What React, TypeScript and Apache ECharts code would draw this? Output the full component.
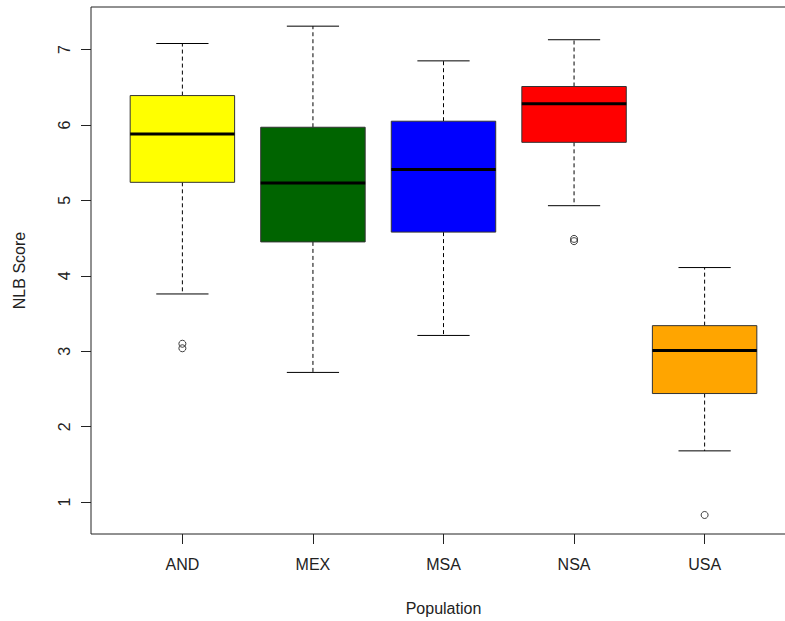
import React, { useEffect, useRef } from 'react';
import * as echarts from 'echarts';

// NLB score summary per population (five-number summary + outliers)
const categories = ['AND', 'MEX', 'MSA', 'NSA', 'USA'];
const lowerWhisker = [3.76, 2.72, 3.21, 4.93, 1.68];
const lowerQuartile = [5.24, 4.45, 4.58, 5.77, 2.44];
const medians = [5.88, 5.23, 5.41, 6.28, 3.01];
const upperQuartile = [6.39, 5.97, 6.05, 6.51, 3.34];
const upperWhisker = [7.08, 7.31, 6.85, 7.13, 4.11];
const boxColors = ['#FFFF00', '#006400', '#0000FF', '#FF0000', '#FFA500'];

// outliers: population index (1-based) and score
const outlierGroup = [1, 1, 4, 4, 5];
const outlierValues = [3.1, 3.04, 4.49, 4.46, 0.83];

const yTicks = [1, 2, 3, 4, 5, 6, 7];
const xTicks = [1, 2, 3, 4, 5];

const FONT = '"Liberation Sans", Arial, Helvetica, sans-serif';
const INK = '#222';

export default function App() {
  const ref = useRef<HTMLDivElement>(null);

  useEffect(() => {
    if (!ref.current) return;
    const chart = echarts.init(ref.current, undefined, { renderer: 'svg' });

    const boxData = categories.map((_, i) => [
      i + 1,
      lowerWhisker[i],
      lowerQuartile[i],
      medians[i],
      upperQuartile[i],
      upperWhisker[i],
    ]);
    const outlierData = outlierGroup.map((g, i) => [g, outlierValues[i]]);

    const renderBox = (params: any, api: any) => {
      const x = api.value(0);
      const [cx, yLow] = api.coord([x, api.value(1)]);
      const yQ1 = api.coord([x, api.value(2)])[1];
      const yMed = api.coord([x, api.value(3)])[1];
      const yQ3 = api.coord([x, api.value(4)])[1];
      const yHigh = api.coord([x, api.value(5)])[1];
      const half = api.size([0.8, 0])[0] / 2;
      const capHalf = half / 2;
      const dashed = { stroke: '#000', lineWidth: 1, lineDash: [4, 3] };
      const solid = { stroke: '#000', lineWidth: 1 };
      return {
        type: 'group',
        children: [
          { type: 'line', shape: { x1: cx, y1: yQ1, x2: cx, y2: yLow }, style: dashed },
          { type: 'line', shape: { x1: cx, y1: yQ3, x2: cx, y2: yHigh }, style: dashed },
          { type: 'line', shape: { x1: cx - capHalf, y1: yLow, x2: cx + capHalf, y2: yLow }, style: solid },
          { type: 'line', shape: { x1: cx - capHalf, y1: yHigh, x2: cx + capHalf, y2: yHigh }, style: solid },
          {
            type: 'rect',
            shape: { x: cx - half, y: yQ3, width: half * 2, height: yQ1 - yQ3 },
            style: { fill: boxColors[params.dataIndex], stroke: '#333', lineWidth: 1 },
          },
          {
            type: 'line',
            shape: { x1: cx - half, y1: yMed, x2: cx + half, y2: yMed },
            style: { stroke: '#000', lineWidth: 3 },
          },
        ],
      };
    };

    chart.setOption({
      animation: false,
      backgroundColor: '#fff',
      textStyle: { fontFamily: FONT },
      grid: {
        left: 91,
        top: 7,
        width: 705,
        height: 527,
        show: true,
        borderColor: INK,
        borderWidth: 1,
        backgroundColor: 'transparent',
      },
      xAxis: {
        type: 'value',
        min: 0.3,
        max: 5.7,
        name: 'Population',
        nameLocation: 'middle',
        nameGap: 66,
        nameTextStyle: { fontSize: 16, color: INK, fontFamily: FONT },
        axisLine: { show: false },
        splitLine: { show: false },
        axisTick: { show: true, length: 10, customValues: xTicks, lineStyle: { color: INK, width: 1 } },
        axisLabel: {
          customValues: xTicks,
          fontSize: 16,
          color: INK,
          fontFamily: FONT,
          margin: 22,
          formatter: (v: number) => categories[Math.round(v) - 1] ?? '',
        },
      },
      yAxis: {
        type: 'value',
        min: 0.578,
        max: 7.564,
        name: 'NLB Score',
        nameLocation: 'middle',
        nameRotate: 90,
        nameGap: 64,
        nameTextStyle: { fontSize: 16, color: INK, fontFamily: FONT },
        axisLine: { show: false },
        splitLine: { show: false },
        axisTick: { show: true, length: 10, customValues: yTicks, lineStyle: { color: INK, width: 1 } },
        axisLabel: {
          customValues: yTicks,
          rotate: 90,
          fontSize: 16,
          color: INK,
          fontFamily: FONT,
          margin: 19,
          formatter: (v: number) => String(v),
        },
      },
      series: [
        {
          type: 'custom',
          renderItem: renderBox,
          data: boxData,
          encode: { x: 0, y: [1, 2, 3, 4, 5] },
          z: 2,
        },
        {
          type: 'scatter',
          data: outlierData,
          symbol: 'circle',
          symbolSize: 7,
          itemStyle: { color: 'rgba(0,0,0,0)', borderColor: '#111', borderWidth: 1 },
          z: 3,
        },
      ],
    });

    return () => chart.dispose();
  }, []);

  return (
    <div
      style={{
        position: 'fixed',
        left: 0,
        top: 0,
        width: 785,
        height: 621,
        overflow: 'hidden',
        background: '#fff',
      }}
    >
      <div ref={ref} style={{ width: 800, height: 621 }} />
    </div>
  );
}
